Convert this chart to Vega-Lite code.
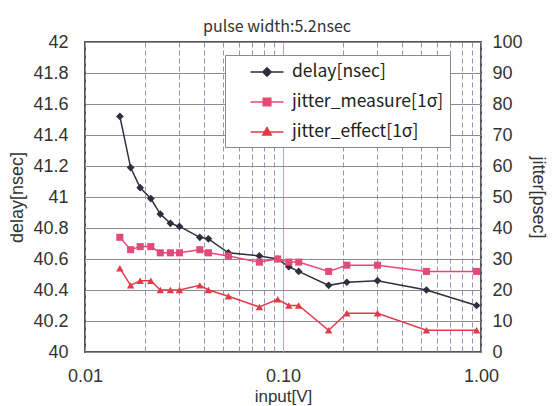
{
  "$schema": "https://vega.github.io/schema/vega-lite/v6.json",
  "width": 396,
  "height": 310,
  "autosize": {"type": "none"},
  "padding": {"left": 85, "top": 42, "right": 71, "bottom": 54},
  "background": "white",
  "title": {"text": "pulse width:5.2nsec", "fontSize": 16, "fontWeight": "normal", "font": "Noto Sans CJK JP", "color": "#333333", "offset": -2, "dx": -6},
  "config": {
    "view": {"stroke": "#555555", "strokeWidth": 2},
    "font": "Noto Sans CJK JP",
    "axis": {"labelFont": "Liberation Sans", "titleFont": "Liberation Sans"}
  },
  "data": {
    "values": [
      {"input": 0.015, "delay": 41.52, "measure": 37, "effect": 27},
      {"input": 0.017, "delay": 41.19, "measure": 33, "effect": 21.5},
      {"input": 0.019, "delay": 41.06, "measure": 34, "effect": 23},
      {"input": 0.0215, "delay": 40.99, "measure": 34, "effect": 23},
      {"input": 0.024, "delay": 40.89, "measure": 32, "effect": 20},
      {"input": 0.027, "delay": 40.83, "measure": 32, "effect": 20},
      {"input": 0.030, "delay": 40.81, "measure": 32, "effect": 20},
      {"input": 0.038, "delay": 40.74, "measure": 33, "effect": 21.5},
      {"input": 0.042, "delay": 40.73, "measure": 32, "effect": 20},
      {"input": 0.053, "delay": 40.64, "measure": 31, "effect": 18},
      {"input": 0.076, "delay": 40.62, "measure": 29, "effect": 14.5},
      {"input": 0.094, "delay": 40.60, "measure": 30, "effect": 17},
      {"input": 0.107, "delay": 40.55, "measure": 29, "effect": 15},
      {"input": 0.12, "delay": 40.52, "measure": 29, "effect": 15},
      {"input": 0.17, "delay": 40.43, "measure": 26, "effect": 7},
      {"input": 0.21, "delay": 40.45, "measure": 28, "effect": 12.5},
      {"input": 0.30, "delay": 40.46, "measure": 28, "effect": 12.5},
      {"input": 0.53, "delay": 40.40, "measure": 26, "effect": 7},
      {"input": 0.95, "delay": 40.30, "measure": 26, "effect": 7}
    ]
  },
  "transform": [{"fold": ["delay", "measure", "effect"], "as": ["series", "value"]}],
  "encoding": {
    "x": {
      "field": "input", "type": "quantitative",
      "scale": {"type": "log", "domain": [0.01, 1], "nice": false},
      "axis": {
        "title": "input[V]", "titleFontSize": 17, "titleFontWeight": "normal", "titleColor": "#333333", "titlePadding": 3,
        "values": [0.01, 0.02, 0.03, 0.04, 0.05, 0.06, 0.07, 0.08, 0.09, 0.1, 0.2, 0.3, 0.4, 0.5, 0.6, 0.7, 0.8, 0.9, 1],
        "labelExpr": "datum.value === 0.01 ? '0.01' : datum.value === 0.1 ? '0.10' : datum.value === 1 ? '1.00' : ''",
        "labelFontSize": 18, "labelColor": "#333333", "labelPadding": 15, "labelFlush": false, "labelOverlap": false,
        "ticks": false, "domain": false,
        "grid": true,
        "gridColor": {"condition": {"test": "datum.value === 0.1", "value": "#6cc9c4"}, "value": "#a08cb4"},
        "gridDash": {"condition": {"test": "datum.value === 0.1", "value": []}, "value": [5, 3]},
        "gridWidth": 1
      }
    }
  },
  "layer": [
    {
      "transform": [{"filter": "datum.series === 'delay'"}],
      "encoding": {
        "y": {
          "field": "value", "type": "quantitative",
          "scale": {"domain": [40, 42], "nice": false, "zero": false},
          "axis": {
            "title": "delay[nsec]", "orient": "left", "titleFontSize": 18, "titleFontWeight": "normal", "titleColor": "#333333", "titlePadding": 6,
            "values": [40, 40.2, 40.4, 40.6, 40.8, 41, 41.2, 41.4, 41.6, 41.8, 42],
            "format": "~g", "labelFontSize": 18, "labelColor": "#333333", "labelPadding": 17,
            "ticks": false, "domain": false, "grid": true, "gridColor": "#8c8c8c", "gridWidth": 1
          }
        }
      },
      "layer": [
        {"mark": {"type": "line", "strokeWidth": 1.5, "color": "#2e2e3e"}},
        {"mark": {"type": "point", "shape": "diamond", "filled": true, "opacity": 1, "size": 60, "color": "#2e2e3e"}}
      ]
    },
    {
      "encoding": {
        "y": {
          "field": "value", "type": "quantitative",
          "scale": {"domain": [0, 100], "nice": false},
          "axis": {
            "title": "jitter[psec]", "orient": "right", "titleFontSize": 18, "titleFontWeight": "normal", "titleColor": "#333333", "titlePadding": 6,
            "values": [0, 10, 20, 30, 40, 50, 60, 70, 80, 90, 100],
            "labelFontSize": 18, "labelColor": "#333333", "labelPadding": 11,
            "ticks": false, "domain": false, "grid": false
          }
        }
      },
      "layer": [
        {"transform": [{"filter": "datum.series === 'measure'"}], "mark": {"type": "line", "strokeWidth": 1.5, "color": "#e44a78"}},
        {"transform": [{"filter": "datum.series === 'measure'"}], "mark": {"type": "point", "shape": "square", "filled": true, "opacity": 1, "size": 50, "color": "#e44a78"}},
        {"transform": [{"filter": "datum.series === 'effect'"}], "mark": {"type": "line", "strokeWidth": 1.5, "color": "#e23a48"}},
        {"transform": [{"filter": "datum.series === 'effect'"}], "mark": {"type": "point", "shape": "triangle-up", "filled": true, "opacity": 1, "size": 55, "color": "#e23a48"}}
      ]
    },
    {
      "transform": [{"filter": "datum.series === 'none'"}],
      "mark": {"type": "point", "filled": true, "opacity": 1},
      "encoding": {
        "color": {
          "field": "series", "type": "nominal",
          "scale": {"domain": ["delay", "measure", "effect"], "range": ["#2e2e3e", "#e44a78", "#e23a48"]},
          "legend": {
            "title": null, "orient": "none", "legendX": 140, "legendY": 13,
            "direction": "vertical",
            "fillColor": "white", "strokeColor": "#8a8a8a", "padding": 6,
            "symbolSize": 400, "symbolOffset": 25, "labelOffset": 14, "rowPadding": 10,
            "symbolStrokeWidth": 1.5, "symbolOpacity": 1,
            "labelFontSize": 17.5, "labelColor": "#222222", "labelLimit": 300,
            "labelExpr": "datum.value === 'delay' ? 'delay[nsec]' : datum.value === 'measure' ? 'jitter_measure[1σ]' : 'jitter_effect[1σ]'"
          }
        },
        "stroke": {
          "field": "series", "type": "nominal",
          "scale": {"domain": ["delay", "measure", "effect"], "range": ["#2e2e3e", "#e44a78", "#e23a48"]},
          "legend": {
            "title": null, "orient": "none", "legendX": 140, "legendY": 13,
            "direction": "vertical",
            "fillColor": "white", "strokeColor": "#8a8a8a", "padding": 6,
            "symbolSize": 400, "symbolOffset": 25, "labelOffset": 14, "rowPadding": 10,
            "symbolStrokeWidth": 1.5, "symbolOpacity": 1,
            "labelFontSize": 17.5, "labelColor": "#222222", "labelLimit": 300,
            "labelExpr": "datum.value === 'delay' ? 'delay[nsec]' : datum.value === 'measure' ? 'jitter_measure[1σ]' : 'jitter_effect[1σ]'"
          }
        },
        "shape": {
          "field": "series", "type": "nominal",
          "scale": {"domain": ["delay", "measure", "effect"], "range": ["M-1.65,0H1.65M0,-0.42L0.42,0L0,0.42L-0.42,0Z", "M-1.65,0H1.65M-0.38,-0.38H0.38V0.38H-0.38Z", "M-1.65,0H1.65M0,-0.45L0.42,0.3H-0.42Z"]},
          "legend": {
            "title": null, "orient": "none", "legendX": 140, "legendY": 13,
            "direction": "vertical",
            "fillColor": "white", "strokeColor": "#8a8a8a", "padding": 6,
            "symbolSize": 400, "symbolOffset": 25, "labelOffset": 14, "rowPadding": 10,
            "symbolStrokeWidth": 1.5, "symbolOpacity": 1,
            "labelFontSize": 17.5, "labelColor": "#222222", "labelLimit": 300,
            "labelExpr": "datum.value === 'delay' ? 'delay[nsec]' : datum.value === 'measure' ? 'jitter_measure[1σ]' : 'jitter_effect[1σ]'"
          }
        }
      }
    }
  ],
  "resolve": {"scale": {"y": "independent"}}
}
